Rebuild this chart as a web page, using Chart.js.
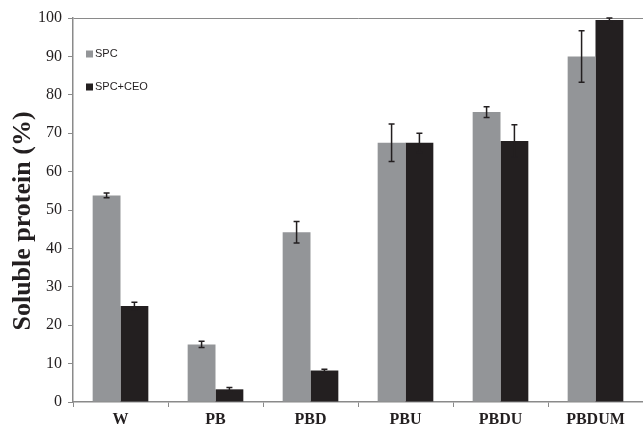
<!DOCTYPE html>
<html>
<head>
<meta charset="utf-8">
<script src="https://cdn.jsdelivr.net/npm/chart.js@4/dist/chart.umd.min.js"></script>
<style>
  html, body { margin: 0; padding: 0; background: #fff; }
  #wrap { width: 643px; height: 434px; }
</style>
</head>
<body>
<div id="wrap"><canvas id="chart" width="643" height="434"></canvas></div>
<script>
// data
const samples = ['W', 'PB', 'PBD', 'PBU', 'PBDU', 'PBDUM'];
const spc = [53.8, 15.0, 44.2, 67.5, 75.5, 90.0];
const spcErr = [0.6, 0.8, 2.8, 4.9, 1.4, 6.7];
const spcCeo = [25.0, 3.3, 8.2, 67.5, 68.0, 99.5];
const spcCeoErr = [1.0, 0.5, 0.3, 2.5, 4.2, 0.5];
const yTitle = 'Soluble protein (%)';

const GREY = '#939598';
const DARK = '#231f20';
const AXIS = '#8a8a8a';
const SERIF = '"Liberation Serif", "Times New Roman", serif';

// error bars on top of the bars
const errorBars = {
  id: 'errorBars',
  afterDatasetsDraw(chart) {
    const ctx = chart.ctx;
    const y = chart.scales.y;
    const area = chart.chartArea;
    ctx.save();
    ctx.beginPath();
    ctx.rect(area.left, area.top - 1, area.right - area.left, area.bottom - area.top + 1);
    ctx.clip();
    ctx.strokeStyle = DARK;
    ctx.lineWidth = 1.5;
    chart.data.datasets.forEach((ds, i) => {
      const meta = chart.getDatasetMeta(i);
      meta.data.forEach((bar, j) => {
        const v = ds.data[j], e = ds.errors[j];
        const top = y.getPixelForValue(v + e);
        const bot = y.getPixelForValue(v - e);
        ctx.beginPath();
        ctx.moveTo(bar.x, top); ctx.lineTo(bar.x, bot);
        ctx.moveTo(bar.x - 3, top); ctx.lineTo(bar.x + 3, top);
        ctx.moveTo(bar.x - 3, bot); ctx.lineTo(bar.x + 3, bot);
        ctx.stroke();
      });
    });
    ctx.restore();
  }
};

// legend inside the plot (top left) and the rotated y title
const annotations = {
  id: 'annotations',
  afterDraw(chart) {
    const ctx = chart.ctx;
    ctx.save();
    ctx.font = '11px "Liberation Sans", Arial, sans-serif';
    ctx.textBaseline = 'middle';
    chart.data.datasets.forEach((ds, i) => {
      const yy = 54 + i * 33;
      ctx.fillStyle = ds.backgroundColor;
      ctx.fillRect(86, yy - 3.5, 7, 7);
      ctx.fillStyle = DARK;
      ctx.fillText(ds.label, 95, yy);
    });

    ctx.translate(23, 221);
    ctx.rotate(-Math.PI / 2);
    ctx.font = 'bold 26px ' + SERIF;
    ctx.textAlign = 'center';
    ctx.fillStyle = DARK;
    ctx.fillText(yTitle, 0, 0);
    ctx.restore();
  }
};

new Chart(document.getElementById('chart'), {
  type: 'bar',
  data: {
    labels: samples,
    datasets: [
      { label: 'SPC', data: spc, errors: spcErr, backgroundColor: GREY },
      { label: 'SPC+CEO', data: spcCeo, errors: spcCeoErr, backgroundColor: DARK }
    ]
  },
  options: {
    responsive: false,
    animation: false,
    layout: { padding: { top: 18, right: 0, left: 0, bottom: 0 } },
    datasets: { bar: { categoryPercentage: 0.586, barPercentage: 1.0, borderWidth: 0 } },
    plugins: { legend: { display: false }, tooltip: { enabled: false } },
    scales: {
      x: {
        afterFit(scale) { scale.height = 32; },
        grid: { offset: true, drawOnChartArea: false, tickLength: 5, color: AXIS, tickColor: AXIS },
        border: { color: AXIS, width: 1.5 },
        ticks: {
          color: DARK, padding: 3,
          font: { family: SERIF, size: 16, weight: 'bold' }
        }
      },
      y: {
        min: 0, max: 100,
        afterFit(scale) { scale.width = 73; },
        grid: {
          drawOnChartArea: true, tickLength: 5, tickColor: AXIS,
          color: c => (c.tick && c.tick.value === 100 ? AXIS : 'rgba(0,0,0,0)')
        },
        border: { color: AXIS, width: 1.5 },
        ticks: {
          stepSize: 10, color: DARK, padding: 6,
          font: { family: SERIF, size: 16 }
        }
      }
    }
  },
  plugins: [errorBars, annotations]
});
</script>
</body>
</html>
